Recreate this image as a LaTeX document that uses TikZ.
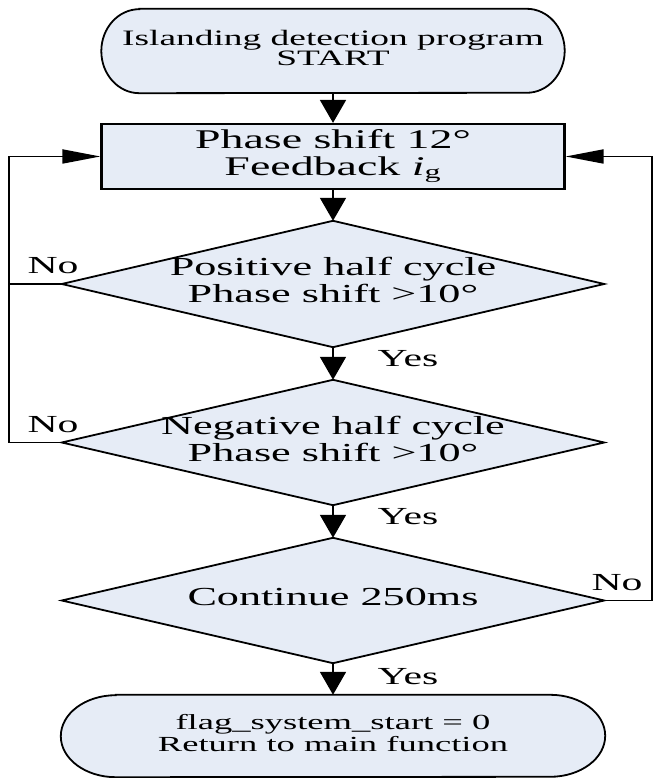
\documentclass[tikz,border=0pt]{standalone}
\usepackage{fontspec}
\setmainfont{Liberation Serif}
\usepackage{graphicx}
\usetikzlibrary{arrows.meta,backgrounds}
\definecolor{boxfill}{RGB}{230,236,246}
\newcommand{\wtext}[1]{\scalebox{1.7}[1]{\begin{tabular}{@{}c@{}}#1\end{tabular}}}
\begin{document}
\begin{tikzpicture}[x=1pt,y=1pt,
  shapeline/.style={draw=black, line width=1.8pt, fill=boxfill},
  holder/.style={rectangle, draw=none, inner sep=0pt},
  procbox/.style={rectangle, draw=black, line width=2.2pt, fill=boxfill, inner sep=0pt, minimum width=463pt, minimum height=65pt},
  conn/.style={line width=1.8pt, draw=black},
  vtip/.style={-{Triangle[length=23pt,width=26pt]}},
  htip/.style={-{Triangle[length=38pt,width=14pt]}},
  lbl/.style={inner sep=0pt, font=\fontsize{24.5}{26}\selectfont},
  dtext/.style={font=\fontsize{26}{27}\selectfont},
]
\useasboundingbox (0,0) rectangle (653,778);

\node[holder, minimum width=463pt, minimum height=84pt, font=\fontsize{22}{20}\selectfont] (start) at (333,727) {\wtext{Islanding detection program\\START}};
\node[procbox, font=\fontsize{27}{25}\selectfont] (box) at (333,621.5) {\wtext{Phase shift 12°\\Feedback \textit{i}\textsubscript{g}}};
\node[holder, dtext, minimum width=542pt, minimum height=126pt] (d1) at (333,494) {\wtext{Positive half cycle\\Phase shift >10°}};
\node[holder, dtext, minimum width=542pt, minimum height=125pt] (d2) at (333,335.5) {\wtext{Negative half cycle\\Phase shift >10°}};
\node[holder, dtext, minimum width=542pt, minimum height=125pt] (d3) at (333,177.5) {\wtext{Continue 250ms}};
\node[holder, minimum width=544pt, minimum height=82pt, font=\fontsize{21.5}{21}\selectfont] (end) at (333,42) {\wtext{flag\_system\_start = 0\\Return to main function}};

\begin{scope}[on background layer]
\draw[shapeline] ([xshift=38pt]start.north west) -- ([xshift=-38pt]start.north east)
  arc[start angle=90,end angle=-90,x radius=38pt,y radius=42pt]
  -- ([xshift=38pt]start.south west)
  arc[start angle=270,end angle=90,x radius=38pt,y radius=42pt] -- cycle;
\draw[shapeline] ([xshift=55pt]end.north west) -- ([xshift=-55pt]end.north east)
  arc[start angle=90,end angle=-90,x radius=55pt,y radius=41pt]
  -- ([xshift=55pt]end.south west)
  arc[start angle=270,end angle=90,x radius=55pt,y radius=41pt] -- cycle;
\draw[shapeline] (d1.north) -- (d1.east) -- (d1.south) -- (d1.west) -- cycle;
\draw[shapeline] (d2.north) -- (d2.east) -- (d2.south) -- (d2.west) -- cycle;
\draw[shapeline] (d3.north) -- (d3.east) -- (d3.south) -- (d3.west) -- cycle;
\end{scope}

\coordinate (lx) at (9,0);
\coordinate (rx) at (652,0);

\draw[conn, vtip] (start.south) -- (box.north);
\draw[conn, vtip] (box.south) -- (d1.north);
\draw[conn, vtip] (d1.south) -- (d2.north);
\draw[conn, vtip] (d2.south) -- (d3.north);
\draw[conn, vtip] (d3.south) -- (end.north);

\draw[conn] (d1.west) -- (d1.west -| lx);
\draw[conn, htip] (d2.west) -- (d2.west -| lx) -- (box.west -| lx) -- (box.west);
\draw[conn, htip] (d3.east) -- (d3.east -| rx) -- (box.east -| rx) -- (box.east);

\node[lbl] (no1) at (53,512) {\scalebox{1.7}[1]{No}};
\node[lbl] (no2) at (53,353) {\scalebox{1.7}[1]{No}};
\node[lbl] (no3) at (617,195) {\scalebox{1.7}[1]{No}};
\node[lbl] (yes1) at (408,419) {\scalebox{1.7}[1]{Yes}};
\node[lbl] (yes2) at (408,261) {\scalebox{1.7}[1]{Yes}};
\node[lbl] (yes3) at (408,101) {\scalebox{1.7}[1]{Yes}};
\end{tikzpicture}
\end{document}
